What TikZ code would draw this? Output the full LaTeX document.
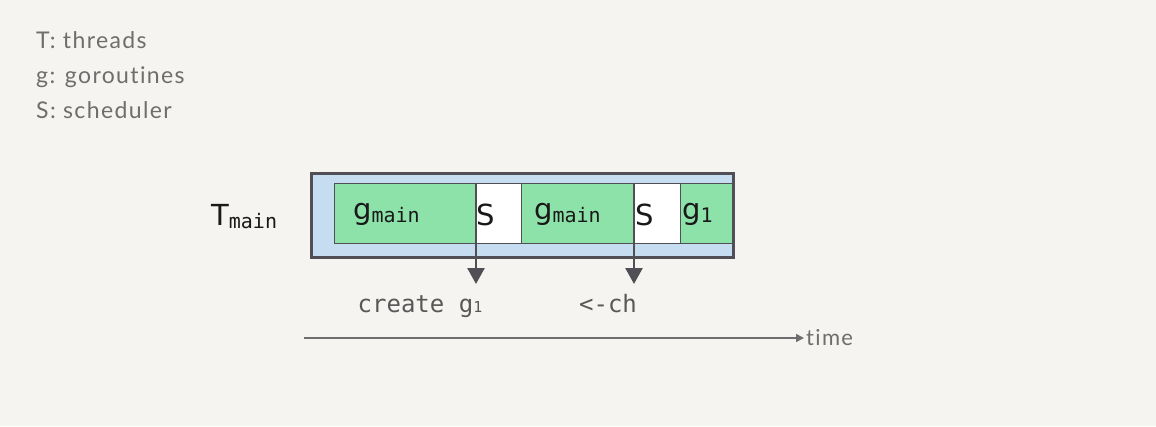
\documentclass[tikz,border=0pt]{standalone}
\usepackage{fontspec}
\setmainfont[LetterSpace=6,Ligatures=NoCommon]{Lato}
\newfontfamily\blkfont{DejaVu Sans}
\newfontfamily\codefont{DejaVu Sans Mono}
\usetikzlibrary{arrows.meta}
\definecolor{paper}{HTML}{F5F4F0}
\definecolor{thread}{HTML}{C5DCF1}
\definecolor{gor}{HTML}{8DE2AA}
\definecolor{edge}{HTML}{4F4F55}
\definecolor{legend}{HTML}{6E6E6E}
\definecolor{code}{HTML}{585858}
\newcommand{\bigsym}[1]{{\blkfont\fontsize{29}{29}\selectfont #1}}
\newcommand{\subtxt}[1]{\raisebox{-3pt}{\codefont\fontsize{20}{20}\selectfont #1}}
\begin{document}
\begin{tikzpicture}[x=1pt,y=-1pt,
    legend/.style={anchor=base west,inner sep=0pt,text=legend,font=\fontsize{23}{23}\selectfont},
    blk/.style={anchor=north west,inner sep=0pt,minimum height=60pt,draw=edge,line width=1pt},
    lbl/.style={anchor=base west,inner sep=0pt,text=black!90},
    code/.style={anchor=base,inner sep=0pt,text=code,font=\codefont\fontsize{24}{24}\selectfont},
    event/.style={-{Triangle[width=17pt,length=16pt]},line width=2.5pt,draw=edge}]
  \fill[paper] (0,0) rectangle (1156,426);
  \node[legend] (lt) at (36,48) {T: threads};
  \node[legend] (lg) at (36,83) {g: goroutines};
  \node[legend] (ls) at (36,118) {S: scheduler};
  \node[lbl] (tm) at (211,225) {\bigsym{T}\subtxt{main}};
  \node[anchor=north west,inner sep=0pt,minimum width=422pt,minimum height=84pt,fill=thread] (th) at (311.5,173.5) {};
  \node[blk,fill=gor,minimum width=142pt] (gm1) at (334,183) {};
  \node[blk,fill=white,minimum width=45pt] (s1) at (476,183) {};
  \node[blk,fill=gor,minimum width=113pt] (gm2) at (521,183) {};
  \node[blk,fill=white,minimum width=46pt] (s2) at (634,183) {};
  \node[blk,fill=gor,minimum width=54pt] (g1) at (680,183) {};
  \draw[edge,line width=3pt] (th.north west) rectangle (th.south east);
  \node[lbl] (gm1t) at (353,219) {\bigsym{g}\subtxt{main}};
  \node[lbl] (s1t) at (476,225) {\bigsym{S}};
  \node[lbl] (gm2t) at (534,219) {\bigsym{g}\subtxt{main}};
  \node[lbl] (s2t) at (635,225) {\bigsym{S}};
  \node[lbl] (g1t) at (682,219) {\bigsym{g}\subtxt{1}};
  \node[code] (cg) at (420,312) {create g{\fontsize{15}{15}\selectfont 1}};
  \node[code] (ch) at (608,312) {<-ch};
  \coordinate (a1) at (476,284);
  \coordinate (a2) at (634,284);
  \draw[event] (s1.north west) -- (a1);
  \draw[event] (s2.north west) -- (a2);
  \node[legend,font=\fontsize{22}{22}\selectfont] (time) at (806,345) {time};
  \coordinate (t0) at (304,338);
  \draw[-{Triangle[width=8pt,length=8pt]},line width=1.5pt,draw=legend,shorten >=2pt] (t0) -- (t0 -| time.west);
\end{tikzpicture}
\end{document}
